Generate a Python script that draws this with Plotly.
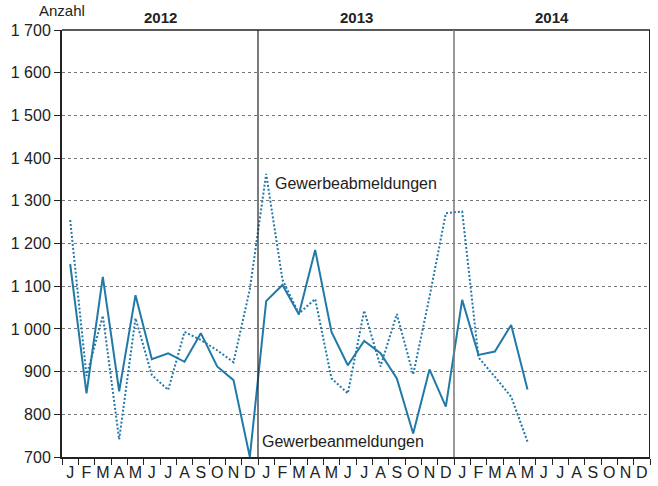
import plotly.graph_objects as go

months = ["J", "F", "M", "A", "M", "J", "J", "A", "S", "O", "N", "D"] * 3
years = ["2012", "2013", "2014"]

anmeldungen = [1152, 849, 1122, 854, 1079, 929, 943, 923, 990, 912, 880, 700,
               1065, 1103, 1034, 1185, 993, 915, 972, 943, 884, 755, 905, 818,
               1068, 939, 947, 1009, 858]
abmeldungen = [1255, 890, 1031, 741, 1025, 892, 857, 993, 974, 950, 922, 1093,
               1363, 1115, 1036, 1070, 884, 849, 1043, 912, 1035, 893, 1075, 1271,
               1275, 933, 888, 841, 736]

y_ticks = [700, 800, 900, 1000, 1100, 1200, 1300, 1400, 1500, 1600, 1700]
y_ticktext = ["700", "800", "900", "1 000", "1 100", "1 200", "1 300", "1 400", "1 500", "1 600", "1 700"]

color = "#2179a8"
font = "Liberation Sans, Arial, sans-serif"
fs = 16

x_an = [i + 0.5 for i in range(len(anmeldungen))]
x_ab = [i + 0.5 for i in range(len(abmeldungen))]

fig = go.Figure()
fig.add_trace(go.Scatter(x=x_ab, y=abmeldungen, mode="lines",
                         line=dict(color=color, width=2, dash="2px,2px"),
                         name="Gewerbeabmeldungen", hoverinfo="skip"))
fig.add_trace(go.Scatter(x=x_an, y=anmeldungen, mode="lines",
                         line=dict(color=color, width=2),
                         name="Gewerbeanmeldungen", hoverinfo="skip"))

fig.update_layout(
    width=658, height=486,
    margin=dict(l=62, r=8, t=30, b=29),
    paper_bgcolor="white", plot_bgcolor="white",
    showlegend=False,
    font=dict(family=font, size=fs, color="#222"),
)
fig.update_xaxes(
    range=[0, 36],
    tickmode="array",
    tickvals=[i + 0.5 for i in range(36)],
    ticktext=months,
    ticks="",
    showgrid=False,
    zeroline=False,
    automargin=False,
    showline=True, linecolor="#222", linewidth=2, mirror=False,
    tickfont=dict(size=fs, family=font, color="#222"),
    minor=dict(ticks="outside", tickmode="linear", tick0=0, dtick=1,
               ticklen=6, tickcolor="#222", tickwidth=1, showgrid=False),
    fixedrange=True,
)
fig.update_yaxes(
    range=[700, 1700],
    tickmode="array",
    tickvals=y_ticks,
    ticktext=y_ticktext,
    ticks="outside", ticklen=6, tickcolor="#222", tickwidth=1,
    showgrid=True, gridcolor="#777", gridwidth=1, griddash="dot",
    zeroline=False,
    automargin=False,
    showline=True, linecolor="#222", linewidth=2,
    tickfont=dict(size=fs, family=font, color="#222"),
    fixedrange=True,
)

# top and right frame
fig.add_shape(type="line", xref="x", yref="paper", x0=0, x1=36, y0=1, y1=1,
              line=dict(color="#222", width=1.5))
fig.add_shape(type="line", xref="x", yref="paper", x0=36, x1=36, y0=0, y1=1,
              line=dict(color="#222", width=2))
# year separators
fig.add_shape(type="line", xref="x", yref="paper", x0=12, x1=12, y0=0, y1=1,
              line=dict(color="#222", width=1.2))
fig.add_shape(type="line", xref="x", yref="paper", x0=24, x1=24, y0=0, y1=1,
              line=dict(color="#777", width=1.5))

# year labels
for k, yr in enumerate(years):
    fig.add_annotation(x=12 * k + 6, y=1, xref="x", yref="paper", text="<b>" + yr + "</b>",
                       showarrow=False, yanchor="bottom", yshift=2,
                       font=dict(size=15, family=font, color="#222"))

fig.add_annotation(x=0, y=1, xref="paper", yref="paper", text="Anzahl",
                   showarrow=False, xanchor="center", yanchor="bottom", yshift=9,
                   font=dict(size=15, family=font, color="#222"))

fig.add_annotation(x=12.9, y=1340, xref="x", yref="y", text="Gewerbeabmeldungen",
                   showarrow=False, xanchor="left", yanchor="middle",
                   font=dict(size=fs, family=font, color="#222"))
fig.add_annotation(x=12.1, y=737, xref="x", yref="y", text="Gewerbeanmeldungen",
                   showarrow=False, xanchor="left", yanchor="middle",
                   font=dict(size=fs, family=font, color="#222"))

fig.write_html("out.html",
               config={"displayModeBar": False, "staticPlot": True},
               post_script="document.body.style.margin='0';document.body.style.overflow='hidden';")
